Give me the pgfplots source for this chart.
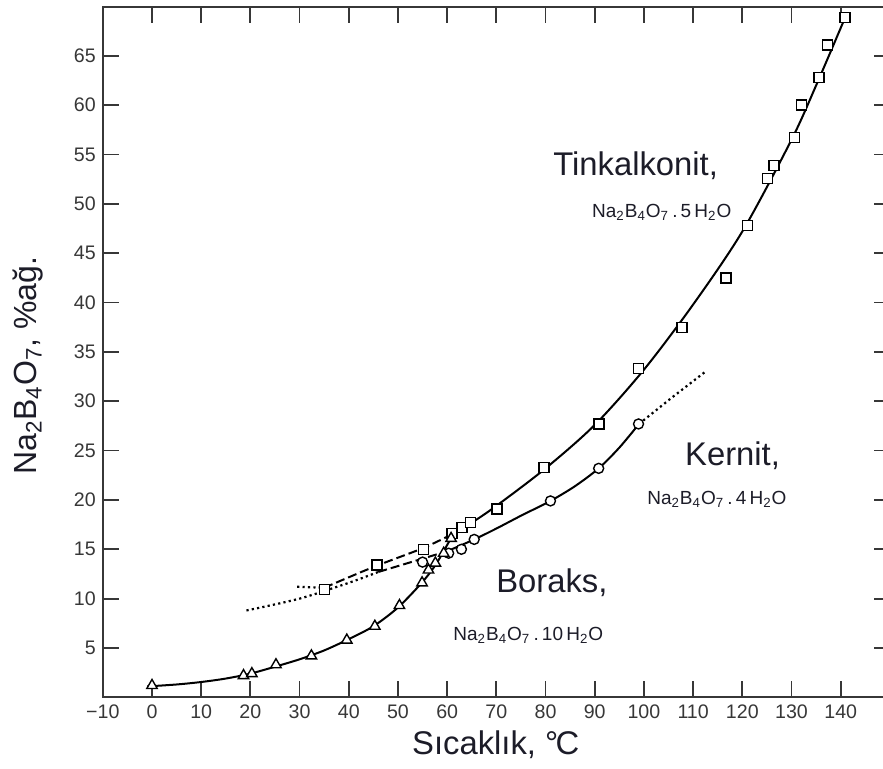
\documentclass[border=0pt]{standalone}
\usepackage{pgfplots}
\pgfplotsset{compat=1.18}
\usepackage{fontspec}
\setmainfont{Liberation Sans}

\definecolor{ink}{RGB}{28,28,40}
\definecolor{axisgray}{RGB}{55,55,55}

% Solubility data (wt.% Na2B4O7 vs temperature)
\pgfplotstableread{
x y
35.1 10.9
45.7 13.4
55.2 15.0
61.0 16.6
63.0 17.2
64.7 17.7
70.1 19.1
79.7 23.3
90.9 27.7
98.9 33.3
107.7 37.5
116.7 42.5
121.1 47.8
125.1 52.6
126.4 53.9
130.6 56.7
132.0 60.0
135.6 62.8
137.3 66.1
140.9 68.9
}\tinkal
\pgfplotstableread{
x y
55.0 13.7
60.3 14.6
62.9 15.0
65.5 16.0
81.0 19.9
90.8 23.2
98.9 27.7
}\kernit
\pgfplotstableread{
x y
0.0 1.2
18.6 2.2
20.3 2.4
25.2 3.3
32.4 4.2
39.6 5.8
45.3 7.2
50.3 9.3
54.9 11.6
56.2 12.9
57.6 13.6
59.3 14.6
60.8 16.1
}\boraks

\begin{document}
\begin{tikzpicture}
\begin{axis}[
  x=2.46pt, y=4.935pt,
  xmin=-10, xmax=150, ymin=0, ymax=70,
  clip=false,
  axis line style={axisgray, line width=1pt},
  tick align=inside,
  major tick length=8pt,
  tick style={axisgray, line width=0.9pt},
  xtick={-10,0,...,140},
  xticklabels={−10,0,10,20,30,40,50,60,70,80,90,100,110,120,130,140},
  ytick={5,10,...,65},
  tick label style={font=\fontsize{9.8}{11}\selectfont, text=axisgray},
  /pgf/number format/assume math mode=true,
  curve/.style={black, line width=1pt, smooth},
  dots/.style={black, line width=1.1pt, dash pattern=on 1.1pt off 1.6pt},
  dashes/.style={black, line width=1pt, dash pattern=on 4.5pt off 2pt},
]
% Tinkalkonit curve: dotted, dashed (metastable), solid
\addplot[dots] coordinates {(29.5,11.2) (35,11.1)};
\addplot[dashes, smooth] coordinates {(35,11.1) (45,13.2) (55,15.1) (60.5,16.4)};
\addplot[curve] coordinates {(60.5,16.4) (65,17.7) (70,19.4) (80,23.2) (90,27.6) (100,33.2) (110,39.8) (120,47.2) (130,56.5) (135,62.0) (141,69.0)};
% Kernit curve
\addplot[dots, smooth] coordinates {(19.2,8.8) (30,10.0) (40,11.6) (46,12.7)};
\addplot[dashes, smooth] coordinates {(46,12.7) (52,13.6) (60,14.8)};
\addplot[curve] coordinates {(60,14.8) (65.5,16.0) (70,17.1) (75,18.4) (81,19.9) (86,21.4) (90.8,23.2) (95,25.3) (99,27.7)};
\addplot[dots] coordinates {(99,27.7) (105.5,30.3) (112.5,33.0)};
% Boraks curve
\addplot[curve] coordinates {(-1,1.1) (5,1.3) (10,1.55) (15,1.9) (20,2.4) (25,3.1) (30,3.85) (35,4.75) (40,5.9) (45,7.2) (50,9.1) (55,11.7) (58,13.7) (61.5,16.8)};

% Measured points
\addplot[only marks, mark=square*, mark size=2.5pt, mark options={fill=white, draw=black, line width=0.7pt}] table {\tinkal};
\addplot[only marks, mark=*, mark size=2.5pt, mark options={fill=white, draw=black, line width=0.7pt}] table {\kernit};
\addplot[only marks, mark=triangle*, mark size=3pt, mark options={fill=white, draw=black, line width=0.7pt}] table {\boraks};

% Phase labels
\node[anchor=base west, text=ink, font=\fontsize{16.4}{18}\selectfont, inner sep=0pt] at (axis cs:81.5,52.9) {Tinkalkonit,};
\node[anchor=base west, text=ink, font=\fontsize{9.5}{11}\selectfont, inner sep=0pt] at (axis cs:89.4,48.6) {Na\textsubscript{2}B\textsubscript{4}O\textsubscript{7}\,.\,5\,H\textsubscript{2}O};
\node[anchor=base west, text=ink, font=\fontsize{16.4}{18}\selectfont, inner sep=0pt] at (axis cs:108.3,23.5) {Kernit,};
\node[anchor=base west, text=ink, font=\fontsize{9.5}{11}\selectfont, inner sep=0pt] at (axis cs:100.6,19.5) {Na\textsubscript{2}B\textsubscript{4}O\textsubscript{7}\,.\,4\,H\textsubscript{2}O};
\node[anchor=base west, text=ink, font=\fontsize{16.4}{18}\selectfont, inner sep=0pt] at (axis cs:69.9,10.6) {Boraks,};
\node[anchor=base west, text=ink, font=\fontsize{9.5}{11}\selectfont, inner sep=0pt] at (axis cs:61.2,5.8) {Na\textsubscript{2}B\textsubscript{4}O\textsubscript{7}\,.\,10\,H\textsubscript{2}O};

% Axis titles
\node[anchor=base west, text=ink, font=\fontsize{16.4}{18}\selectfont, inner sep=0pt] at (axis cs:52.8,-5.84) {Sıcaklık, °\kern-0.08em C};
\node[rotate=90, text=ink, font=\fontsize{16}{18}\selectfont, inner sep=0pt] at (axis cs:-25.2,33.6) {Na\textsubscript{2}B\textsubscript{4}O\textsubscript{7}, \%ağ.};

% Picture frame in axis units
\coordinate (bbSW) at (axis cs:-30.9,-7.25);
\coordinate (bbNE) at (axis cs:148.6,70.66);
\end{axis}
\pgfresetboundingbox
\useasboundingbox (bbSW) rectangle (bbNE);
\end{tikzpicture}
\end{document}
